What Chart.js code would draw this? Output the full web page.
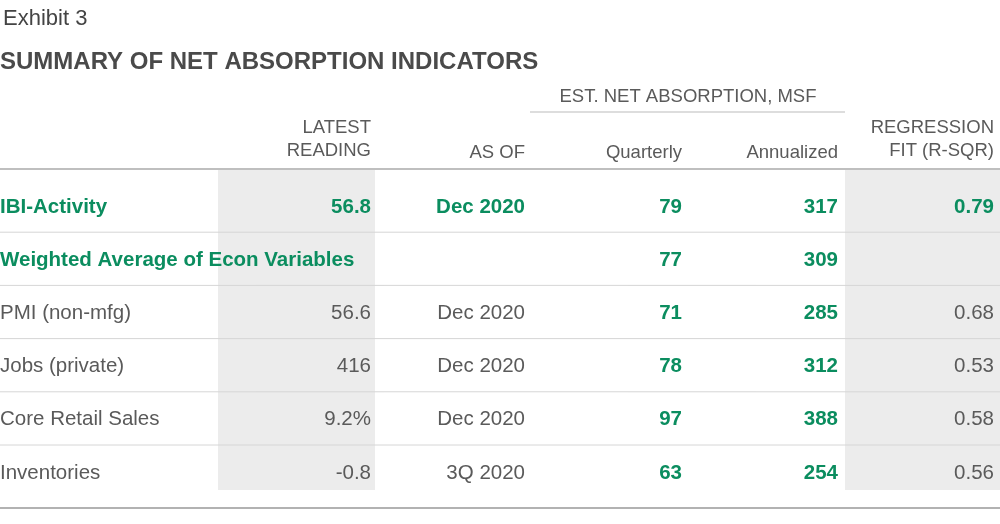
<!DOCTYPE html>
<html>
<head>
<meta charset="utf-8">
<script src="https://cdn.jsdelivr.net/npm/chart.js@4"></script>
<style>
  html,body{margin:0;padding:0;background:#fff}
  #wrap{width:1000px;height:524px}
</style>
</head>
<body>
<div id="wrap"><canvas id="tbl" width="1000" height="524"></canvas></div>
<script>
// ---------- data ----------
const rowLabels = ["IBI-Activity", "Weighted Average of Econ Variables", "PMI (non-mfg)", "Jobs (private)", "Core Retail Sales", "Inventories"];
const latestReading = ["56.8", "", "56.6", "416", "9.2%", "-0.8"];
const asOf = ["Dec 2020", "", "Dec 2020", "Dec 2020", "Dec 2020", "3Q 2020"];
const quarterly = [79, 77, 71, 78, 97, 63];
const annualized = [317, 309, 285, 312, 388, 254];
const rSquared = ["0.79", "", "0.68", "0.53", "0.58", "0.56"];
const highlightRows = [0, 1]; // rows shown bold green

// ---------- styles ----------
const GREEN = "#0b8d5f";
const GREY_TEXT = "#5a5a5a";
const SHADE = "#ececec";
const FONT = "'Liberation Sans', Arial, sans-serif";

// column right edges in the table's own units (x 0..1000)
const cols = { latest: 371, asOf: 525, quarterly: 682, annualized: 838, rsq: 994 };
const rowTop = 170, rowH = 53.2;

const tablePlugin = {
  id: "tablePlugin",
  afterDraw(chart) {
    const ctx = chart.ctx;
    const xs = chart.scales.x, ys = chart.scales.y;
    const X = v => xs.getPixelForValue(v);
    const Y = v => ys.getPixelForValue(v);
    const text = (s, x, y, opts = {}) => {
      ctx.font = `${opts.bold ? "bold " : ""}${opts.size || 20.5}px ${FONT}`;
      ctx.fillStyle = opts.color || GREY_TEXT;
      ctx.textAlign = opts.align || "right";
      ctx.textBaseline = "middle";
      ctx.fillText(s, X(x), Y(y));
    };
    const line = (x1, x2, y, color, w) => {
      ctx.strokeStyle = color; ctx.lineWidth = w || 1;
      ctx.beginPath(); ctx.moveTo(X(x1), Y(y)); ctx.lineTo(X(x2), Y(y)); ctx.stroke();
    };
    ctx.save();

    // shaded columns
    ctx.fillStyle = SHADE;
    ctx.fillRect(X(218), Y(rowTop), X(375) - X(218), Y(490) - Y(rowTop));
    ctx.fillRect(X(845), Y(rowTop), X(1000) - X(845), Y(490) - Y(rowTop));

    // titles
    text("Exhibit 3", 3, 19, { align: "left", size: 22, color: "#444" });
    text("SUMMARY OF NET ABSORPTION INDICATORS", 0, 62, { align: "left", size: 24, bold: true, color: "#4a4a4a" });

    // headers
    text("EST. NET ABSORPTION, MSF", 688, 97, { align: "center", size: 18.5 });
    line(530, 845, 112, "#bbb", 1);
    text("LATEST", cols.latest, 128, { size: 18.5 });
    text("READING", cols.latest, 151, { size: 18.5 });
    text("AS OF", cols.asOf, 153, { size: 18.5 });
    text("Quarterly", cols.quarterly, 153, { size: 18.5 });
    text("Annualized", cols.annualized, 153, { size: 18.5 });
    text("REGRESSION", cols.rsq, 128, { size: 18.5 });
    text("FIT (R-SQR)", cols.rsq, 151, { size: 18.5 });
    line(0, 1000, 169, "#aaa", 1.5);

    // body rows
    rowLabels.forEach((label, i) => {
      const yc = rowTop + rowH * i + 37;
      const hi = highlightRows.includes(i);
      const c = hi ? GREEN : GREY_TEXT;
      text(label, 0, yc, { align: "left", bold: hi, color: c });
      if (latestReading[i]) text(latestReading[i], cols.latest, yc, { bold: hi, color: c });
      if (asOf[i]) text(asOf[i], cols.asOf, yc, { bold: hi, color: c });
      text(String(quarterly[i]), cols.quarterly, yc, { bold: true, color: GREEN });
      text(String(annualized[i]), cols.annualized, yc, { bold: true, color: GREEN });
      if (rSquared[i]) text(rSquared[i], cols.rsq, yc, { bold: hi, color: c });
      if (i < rowLabels.length - 1) line(0, 1000, rowTop + rowH * (i + 1) + 9, "#d6d6d6", 1);
    });
    line(0, 1000, 508, "#999", 1.5);
    ctx.restore();
  }
};

new Chart(document.getElementById("tbl"), {
  type: "scatter",
  data: { datasets: [{ data: [] }] },
  options: {
    responsive: false,
    animation: false,
    layout: { padding: 0 },
    plugins: { legend: { display: false }, tooltip: { enabled: false } },
    scales: {
      x: { type: "linear", min: 0, max: 1000, display: false },
      y: { type: "linear", min: 0, max: 524, reverse: true, display: false }
    }
  },
  plugins: [tablePlugin]
});
</script>
</body>
</html>
